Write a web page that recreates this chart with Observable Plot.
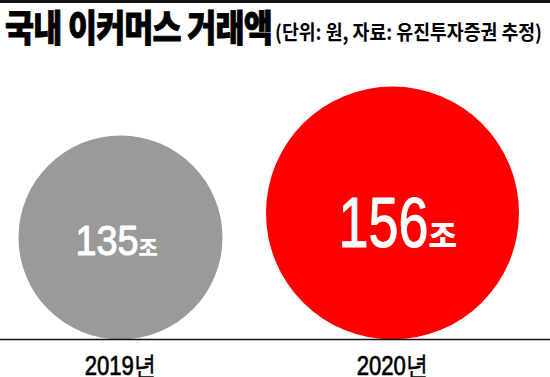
<!DOCTYPE html>
<html><head><meta charset="utf-8">
<script src="https://cdn.jsdelivr.net/npm/d3@7"></script>
<script src="https://cdn.jsdelivr.net/npm/@observablehq/plot@0.6"></script>
<style>
html,body{margin:0;padding:0;background:#fff;}
body{width:550px;height:377px;overflow:hidden;position:relative;font-family:"Noto Sans CJK KR",sans-serif;}
#topbar{position:absolute;left:0;top:0;width:550px;height:3px;background:#111;}
.hd{position:absolute;white-space:nowrap;line-height:1;color:#000;transform-origin:0 100%;}
#title{left:5px;top:8px;font-size:37px;font-weight:900;letter-spacing:-1px;-webkit-text-stroke:0.8px #000;}
#subtitle{left:275px;top:22px;font-size:20px;font-weight:700;}
#chart{position:absolute;left:0;top:50px;}
</style></head>
<body>
<div id="topbar"></div>
<div id="title" class="hd">국내 이커머스 거래액</div>
<div id="subtitle" class="hd">(단위: 원, 자료: 유진투자증권 추정)</div>
<div id="chart"></div>
<script>
// ---- data ----
const years = ["2019", "2020"];
const values = [135, 156];
const yearSuffix = "년";
const unitLabel = "조";

const data = years.map((year, i) => ({year, value: values[i]}));

// fit header widths
function fitWidth(el, target) {
  const w = el.getBoundingClientRect().width;
  el.style.transform = `scaleX(${target / w})`;
}
fitWidth(document.getElementById("title"), 267);
fitWidth(document.getElementById("subtitle"), 267);

const rOpts = {type: "linear", domain: d3.extent(values), range: [102, 126.5]};
const rS = Plot.scale({r: rOpts});
const cy = d => rS.apply(d.value); // circle sits on the baseline

const numStyle = [
  {fontSize: 42, dx: 18, dy: 17, unitSize: 21},
  {fontSize: 70, dx: 36, dy: 33.5, unitSize: 31}
];

const marks = [
  Plot.dot(data, {x: "year", y: cy, r: "value", fill: "year"}),
  Plot.ruleY([0], {stroke: "#111", strokeWidth: 1.6})
];
data.forEach((d, i) => {
  const s = numStyle[i];
  marks.push(Plot.text([d], {x: "year", y: cy, text: e => String(e.value), textAnchor: "end",
    lineAnchor: "bottom", dx: s.dx, dy: s.dy, fontSize: s.fontSize, fill: "white",
    stroke: "white", strokeWidth: 1.1, paintOrder: "fill",
    fontFamily: "Liberation Sans, Arial, sans-serif", ariaDescription: "num" + i}));
  marks.push(Plot.text([d], {x: "year", y: cy, text: () => unitLabel, textAnchor: "start",
    lineAnchor: "bottom", dx: s.dx, dy: s.dy, fontSize: s.unitSize, fill: "white", fontWeight: 900,
    fontFamily: "Noto Sans CJK KR, sans-serif"}));
});

const chart = Plot.plot({
  width: 550, height: 327,
  marginTop: 0, marginLeft: 0, marginRight: 0, marginBottom: 38,
  style: {fontFamily: "Liberation Sans, Arial, sans-serif", fontSize: "27px", color: "#000", background: "#fff", overflow: "visible"},
  x: {type: "point", domain: years, range: [120, 392], padding: 0, tickSize: 0, tickPadding: 16, label: null,
      tickFormat: d => d + yearSuffix},
  y: {domain: [0, 289], axis: null},
  r: rOpts,
  color: {domain: years, range: ["#9a9a9a", "#ff0000"]},
  marks
});
document.getElementById("chart").appendChild(chart);

// condense labels horizontally, pivoting about their anchor (from the rendered box)
function squeeze(texts, s, anchor) {
  texts.forEach(t => {
    const b = t.getBBox();
    const px = anchor === "end" ? b.x + b.width : anchor === "start" ? b.x : b.x + b.width / 2;
    const tr = t.getAttribute("transform") || "";
    t.setAttribute("transform", `${tr} translate(${px},0) scale(${s},1) translate(${-px},0)`.trim());
  });
}
squeeze(chart.querySelectorAll('g[aria-description="num0"] text'), 0.9, "end");
squeeze(chart.querySelectorAll('g[aria-description="num1"] text'), 0.77, "end");
const axisTexts = [...chart.querySelectorAll('text')].filter(t => /년/.test(t.textContent));
axisTexts.forEach(t => { t.setAttribute("stroke", "#000"); t.setAttribute("stroke-width", "0.7"); });
squeeze(axisTexts, 0.82, "middle");
</script>
</body></html>
